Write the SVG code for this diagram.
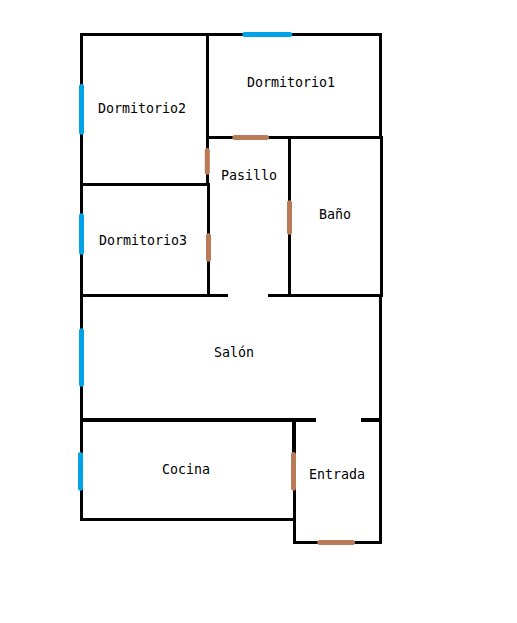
<svg xmlns="http://www.w3.org/2000/svg" width="517" height="623" viewBox="0 0 517 623">
<style>
.w{stroke:#000;stroke-width:3;fill:none;shape-rendering:crispEdges}
.t{stroke-width:4}
.v{stroke:#00a2e8;stroke-width:5;stroke-linecap:round;fill:none}
.d{stroke:#b97a57;stroke-width:5;stroke-linecap:round;fill:none}
text{font-family:"DejaVu Sans Mono","Liberation Mono",monospace;font-size:13.3px;fill:#000}
</style>
<rect width="517" height="623" fill="#fff"/>
<g id="walls">
<path class="w" d="M81.500 33V521M80 34.500H382M380.500 33V137M381.500 136V297M380.500 295V544M207.500 33V186M208.500 183V297M206 137.500H383M289.500 137V296M80 184.500H210M80 295.500H228M268 295.500H383M294.500 490V544M80 519.500H295M293 542.500H382"/>
<path class="w t" d="M80 420H316M361 420H382M294 418V490"/>
</g>
<g id="windows">
<path class="v" d="M244.800 34.500H289.800M81.500 86.500V132.200M81.500 215.800V252.200M81.500 330.800V384.200M80.500 454.500V488.200"/>
</g>
<g id="doors">
<path class="d" d="M234.800 137.500H266.500M207.300 150.500V172.200M208.500 235.800V259.200M289.500 202.800V232.200M293.500 454.500V488.200M319.800 542.500H352.500"/>
</g>
<g id="Dormitorio1"><text x="247" y="87">Dormitorio1</text></g>
<g id="Dormitorio2"><text x="98" y="113">Dormitorio2</text></g>
<g id="Dormitorio3"><text x="99" y="245">Dormitorio3</text></g>
<g id="Pasillo"><text x="221" y="180">Pasillo</text></g>
<g id="Bano"><text x="319" y="219">Baño</text></g>
<g id="Salon"><text x="214" y="357">Salón</text></g>
<g id="Cocina"><text x="162" y="474">Cocina</text></g>
<g id="Entrada"><text x="309" y="479">Entrada</text></g>
</svg>
